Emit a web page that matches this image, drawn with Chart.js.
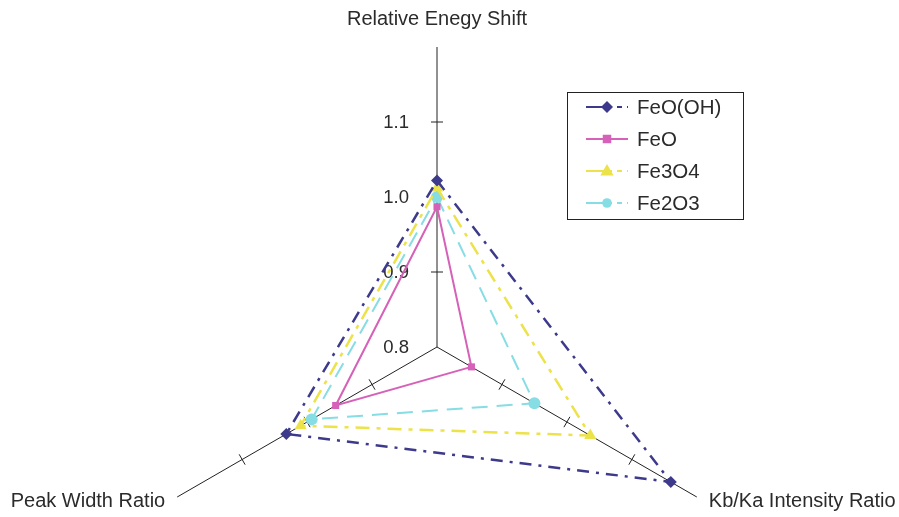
<!DOCTYPE html>
<html>
<head>
<meta charset="utf-8">
<title>Radar</title>
<script src="https://cdn.jsdelivr.net/npm/chart.js@4/dist/chart.umd.min.js"></script>
<style>
  html, body { margin: 0; padding: 0; background: #fff; overflow: hidden; }
  #wrap { width: 899px; height: 517px; overflow: hidden; position: relative; }
  canvas { display: block; }
</style>
</head>
<body>
<div id="wrap"><canvas id="radar" width="899" height="700"></canvas></div>
<script>
// axes of the radar (clockwise from the top)
const axes = ["Relative Enegy Shift", "Kb/Ka Intensity Ratio", "Peak Width Ratio"];

// one value per axis
const feooh = [1.022, 1.16, 1.032];
const feo = [0.987, 0.853, 0.956];
const fe3o4 = [1.012, 1.036, 1.01];
const fe2o3 = [1.0, 0.95, 0.993];

// scale ticks
const tickValues = [0.8, 0.9, 1.0, 1.1];
const tickLabels = ["0.8", "0.9", "1.0", "1.1"];

const FONT = "'Liberation Sans', Arial, sans-serif";
const TEXT = "#2b2b2b";

function marker(ctx, style, x, y, r, color) {
  ctx.save();
  ctx.fillStyle = color;
  ctx.strokeStyle = color;
  ctx.setLineDash([]);
  ctx.beginPath();
  if (style === "rectRot") {
    ctx.moveTo(x, y - r); ctx.lineTo(x + r, y); ctx.lineTo(x, y + r); ctx.lineTo(x - r, y);
  } else if (style === "rect") {
    ctx.rect(x - r * 0.85, y - r * 0.85, r * 1.7, r * 1.7);
  } else if (style === "triangle") {
    ctx.moveTo(x, y - r); ctx.lineTo(x + r * 0.95, y + r * 0.65); ctx.lineTo(x - r * 0.95, y + r * 0.65);
  } else {
    ctx.arc(x, y, r * 0.8, 0, Math.PI * 2);
  }
  ctx.closePath();
  ctx.fill();
  ctx.restore();
}

// tick marks across the axes, tick numbers and the axis titles
const axisDecor = {
  id: "axisDecor",
  beforeDatasetsDraw(chart) {
    const s = chart.scales.r;
    const ctx = chart.ctx;
    ctx.save();
    ctx.strokeStyle = "#222";
    ctx.lineWidth = 1;
    axes.forEach((_, i) => {
      const end = s.getPointPositionForValue(i, s.max);
      const dx = end.x - s.xCenter, dy = end.y - s.yCenter;
      const len = Math.hypot(dx, dy);
      const nx = -dy / len, ny = dx / len;
      tickValues.forEach(v => {
        if (v <= s.min) return;
        const p = s.getPointPositionForValue(i, v);
        ctx.beginPath();
        ctx.moveTo(p.x - nx * 6, p.y - ny * 6);
        ctx.lineTo(p.x + nx * 6, p.y + ny * 6);
        ctx.stroke();
      });
    });

    ctx.fillStyle = TEXT;
    ctx.font = "18.5px " + FONT;
    ctx.textAlign = "right";
    ctx.textBaseline = "middle";
    tickValues.forEach((v, k) => {
      const p = s.getPointPositionForValue(0, v);
      ctx.fillText(tickLabels[k], p.x - 28, p.y + 1);
    });

    const top = s.getPointPositionForValue(0, s.max);
    const right = s.getPointPositionForValue(1, s.max);
    const left = s.getPointPositionForValue(2, s.max);
    ctx.font = "20px " + FONT;
    ctx.textAlign = "center";
    ctx.fillText(axes[0], top.x, top.y - 28);
    ctx.textAlign = "left";
    ctx.fillText(axes[1], right.x + 12, right.y + 4);
    ctx.textAlign = "right";
    ctx.fillText(axes[2], left.x - 12, left.y + 4);
    ctx.restore();
  }
};

// boxed legend in the upper right
const boxLegend = {
  id: "boxLegend",
  afterDraw(chart) {
    const ctx = chart.ctx;
    const x0 = 567, y0 = 92, w = 176, h = 127;
    ctx.save();
    ctx.strokeStyle = "#222";
    ctx.lineWidth = 1;
    ctx.strokeRect(x0 + 0.5, y0 + 0.5, w, h);
    ctx.font = "20.5px " + FONT;
    ctx.textBaseline = "middle";
    ctx.textAlign = "left";
    chart.data.datasets.forEach((ds, i) => {
      const y = y0 + 15 + i * 32;
      ctx.strokeStyle = ds.borderColor;
      ctx.lineWidth = 2;
      ctx.setLineDash(ds.borderDash.length ? [26, 5, 5, 5] : []);
      ctx.beginPath();
      ctx.moveTo(586, y);
      ctx.lineTo(628, y);
      ctx.stroke();
      marker(ctx, ds.pointStyle, 607, y, ds.pointRadius, ds.pointBackgroundColor);
      ctx.fillStyle = TEXT;
      ctx.fillText(ds.label, 637, y + 1);
    });
    ctx.restore();
  }
};

function series(label, data, color, dash, style, radius, width) {
  return {
    label: label,
    data: data,
    borderColor: color,
    backgroundColor: color,
    pointBackgroundColor: color,
    pointBorderColor: color,
    borderWidth: width,
    borderDash: dash,
    pointStyle: style,
    pointRadius: radius,
    pointBorderWidth: 0,
    fill: false,
    tension: 0,
  };
}

new Chart(document.getElementById("radar"), {
  type: "radar",
  data: {
    labels: axes,
    datasets: [
      series("FeO(OH)", feooh, "#3d3a8c", [12, 7, 3, 7], "rectRot", 6, 2.5),
      series("FeO", feo, "#d661b8", [], "rect", 5, 2),
      series("Fe3O4", fe3o4, "#ece24a", [14, 7, 4, 7], "triangle", 7, 2.5),
      series("Fe2O3", fe2o3, "#86dde4", [16, 9], "circle", 6, 2),
    ],
  },
  options: {
    responsive: false,
    devicePixelRatio: 1,
    animation: false,
    layout: { padding: { left: 137, right: 162, top: 47, bottom: 53 } },
    plugins: { legend: { display: false }, tooltip: { enabled: false } },
    scales: {
      r: {
        min: 0.8,
        max: 1.2,
        ticks: { display: false, stepSize: 0.1 },
        grid: { display: false },
        angleLines: { display: true, color: "#222", lineWidth: 1 },
        pointLabels: { display: false },
      },
    },
  },
  plugins: [axisDecor, boxLegend],
});
</script>
</body>
</html>
